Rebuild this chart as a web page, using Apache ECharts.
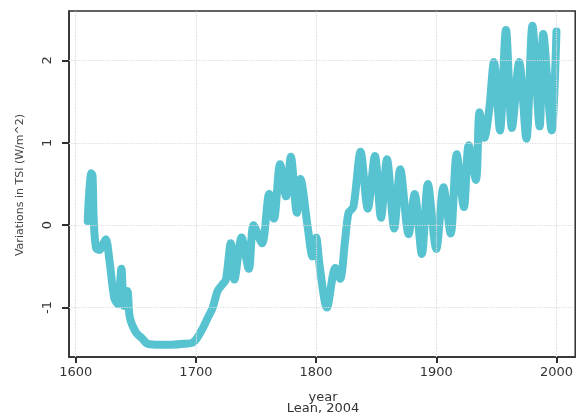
<!DOCTYPE html>
<html><head><meta charset="utf-8">
<script src="https://cdn.jsdelivr.net/npm/echarts@6/dist/echarts.min.js"></script>
<style>html,body{margin:0;padding:0;background:#fff}#c{width:576px;height:416px}</style>
</head><body><div id="c"></div>
<script>
const years = [1610,1611,1613,1614,1615,1617,1620,1622,1625,1628,1632,1635,1638,1640,1643,1645,1650,1655,1660,1670,1680,1690,1698,
  1705,1710,1714,1718,1722,1725,1729,1732,1738,1744,1748,1755,1761,1765,1770,1775,1779,1784,1787,1793,1797,1800,1803,1809,
  1816,1820,1824,1827,1831,1837,1843,1849,1854,1859,1865,1870,1877,1882,1888,1893,1900,1906,1912,1917,1923,1927,1933,1936,
  1940,1944,1948,1953,1958,1963,1969,1975,1980,1986,1989,1996,2000];
const tsi = [0.05,0.35,0.63,0.6,0.05,-0.28,-0.3,-0.25,-0.17,-0.42,-0.88,-0.96,-0.53,-0.98,-0.8,-1.12,-1.3,-1.37,-1.44,-1.45,-1.45,-1.44,-1.42,
  -1.27,-1.12,-1.0,-0.8,-0.72,-0.66,-0.22,-0.66,-0.15,-0.53,0.0,-0.22,0.38,0.08,0.74,0.35,0.83,0.15,0.56,-0.02,-0.38,-0.15,-0.5,-1.0,
  -0.52,-0.65,-0.2,0.15,0.22,0.89,0.2,0.84,0.09,0.8,-0.04,0.68,-0.11,0.38,-0.35,0.5,-0.29,0.46,-0.1,0.86,0.22,0.97,0.55,1.37,
  1.06,1.4,1.98,1.15,2.37,1.18,1.98,1.05,2.42,1.2,2.32,1.15,2.35];
const xTicks = [1600,1700,1800,1900,2000];
const yTicks = [-1,0,1,2];
const yTitle = 'Variations in TSI (W/m^2)';
const xTitle = 'year';
const sourceNote = 'Lean, 2004';

const chart = echarts.init(document.getElementById('c'), null, {renderer:'canvas'});
const FONT = 'DejaVu Sans';
const AX = '#2e2e2e';
const gridLines = xTicks.map(v => ({xAxis: v})).concat(yTicks.map(v => ({yAxis: v})));
chart.setOption({
  animation: false,
  backgroundColor: '#fff',
  grid: {left: 69, top: 11, width: 509, height: 346, show: true, borderColor: AX, borderWidth: 1.5, backgroundColor: 'transparent'},
  xAxis: {
    type: 'value', min: 1594.4, max: 2015.6,
    axisLine: {show: true, onZero: false, lineStyle: {color: AX, width: 1.5}},
    axisTick: {show: true, length: 6, inside: false, customValues: xTicks, lineStyle: {color: AX, width: 2}},
    axisLabel: {customValues: xTicks, margin: 9, fontFamily: FONT, fontSize: 13, color: '#333', formatter: v => String(v)},
    splitLine: {show: false}
  },
  yAxis: {
    type: 'value', min: -1.6, max: 2.6,
    axisLine: {show: true, onZero: false, lineStyle: {color: AX, width: 1.5}},
    axisTick: {show: true, length: 7, inside: false, customValues: yTicks, lineStyle: {color: AX, width: 2}},
    axisLabel: {customValues: yTicks, rotate: 90, margin: 15, fontFamily: FONT, fontSize: 13, color: '#333', formatter: v => String(v)},
    splitLine: {show: false}
  },
  graphic: [
    {type: 'text', x: 20, y: 185, rotation: Math.PI / 2,
      style: {text: yTitle, fontFamily: FONT, fontSize: 11, fill: '#444', textAlign: 'center', textVerticalAlign: 'middle'}},
    {type: 'text', x: 323, y: 398,
      style: {text: xTitle, fontFamily: FONT, fontSize: 13, fill: '#333', textAlign: 'center', textVerticalAlign: 'middle'}},
    {type: 'text', x: 323, y: 409,
      style: {text: sourceNote, fontFamily: FONT, fontSize: 13, fill: '#333', textAlign: 'center', textVerticalAlign: 'middle'}}
  ],
  series: [{
    type: 'line', data: [], z: 1, silent: true,
    markLine: {silent: true, symbol: 'none', animation: false, label: {show: false},
      lineStyle: {color: '#dcdcdc', type: 'dotted', width: 1.2}, data: gridLines}
  }, {
    type: 'line', z: 3,
    data: years.map((y, i) => [y, tsi[i]]),
    showSymbol: false,
    smooth: 0.3,
    lineStyle: {color: '#58c3d0', width: 8, cap: 'round', join: 'round'}
  }]
});
</script>
</body></html>
